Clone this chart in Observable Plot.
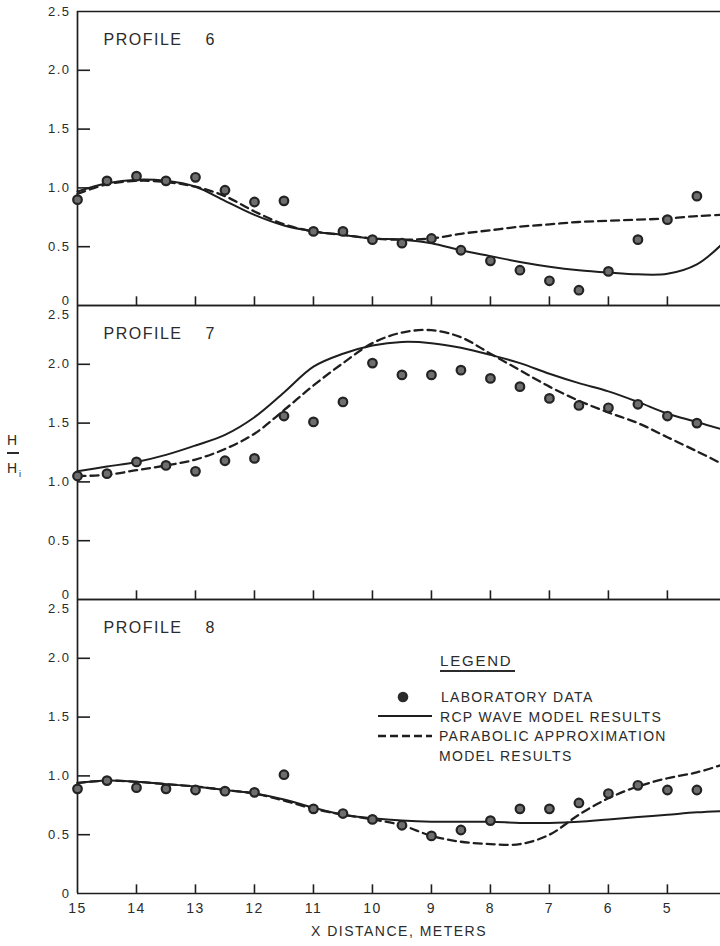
<!DOCTYPE html>
<html>
<head>
<meta charset="utf-8">
<script src="https://cdn.jsdelivr.net/npm/d3@7"></script>
<script src="https://cdn.jsdelivr.net/npm/@observablehq/plot@0.6"></script>
<style>
  body { margin: 0; background: #fff; }
  #wrap { position: relative; width: 720px; height: 946px; overflow: hidden; background: #fff;
          font-family: "Liberation Sans", Arial, sans-serif; color: #2b2b2b; }
  #wrap > svg { position: absolute; left: 0; top: 0; }
  .abs { position: absolute; white-space: nowrap; line-height: 1; }
</style>
</head>
<body>
<div id="wrap"></div>
<script>
// ---- data ----
const panels = ["6", "7", "8"];
const xPoints = [15, 14.5, 14, 13.5, 13, 12.5, 12, 11.5, 11, 10.5, 10, 9.5, 9, 8.5, 8, 7.5, 7, 6.5, 6, 5.5, 5, 4.5, 4];
const lab6 = [0.90, 1.06, 1.10, 1.06, 1.09, 0.98, 0.88, 0.89, 0.63, 0.63, 0.56, 0.53, 0.57, 0.47, 0.38, 0.30, 0.21, 0.13, 0.29, 0.56, 0.73, 0.93, 1.09];
const lab7 = [1.05, 1.07, 1.17, 1.14, 1.09, 1.18, 1.20, 1.56, 1.51, 1.68, 2.01, 1.91, 1.91, 1.95, 1.88, 1.81, 1.71, 1.65, 1.63, 1.66, 1.56, 1.50, 1.36];
const lab8 = [0.89, 0.96, 0.90, 0.89, 0.88, 0.87, 0.86, 1.01, 0.72, 0.68, 0.63, 0.58, 0.49, 0.54, 0.62, 0.72, 0.72, 0.77, 0.85, 0.92, 0.88, 0.88, 0.89];

const xCurve = [15, 14.5, 14, 13.5, 13, 12.5, 12, 11.5, 11, 10.5, 10, 9.5, 9, 8.5, 8, 7.5, 7, 6.5, 6, 5.5, 5, 4.5, 4.1];
const rcp6 = [0.97, 1.04, 1.07, 1.06, 1.01, 0.89, 0.77, 0.68, 0.63, 0.60, 0.57, 0.56, 0.53, 0.47, 0.42, 0.37, 0.33, 0.30, 0.28, 0.265, 0.27, 0.35, 0.51];
const para6 = [0.95, 1.03, 1.06, 1.05, 1.01, 0.93, 0.80, 0.69, 0.63, 0.60, 0.57, 0.56, 0.57, 0.61, 0.64, 0.67, 0.69, 0.71, 0.72, 0.73, 0.74, 0.76, 0.77];
const rcp7 = [1.09, 1.13, 1.17, 1.23, 1.31, 1.40, 1.55, 1.76, 1.98, 2.09, 2.16, 2.19, 2.18, 2.14, 2.08, 2.01, 1.92, 1.84, 1.77, 1.68, 1.58, 1.51, 1.45];
const para7 = [1.05, 1.06, 1.10, 1.14, 1.19, 1.28, 1.41, 1.61, 1.82, 2.01, 2.18, 2.27, 2.29, 2.23, 2.09, 1.95, 1.81, 1.69, 1.59, 1.50, 1.38, 1.26, 1.16];
const rcp8 = [0.94, 0.96, 0.95, 0.93, 0.91, 0.88, 0.85, 0.80, 0.73, 0.67, 0.64, 0.62, 0.61, 0.61, 0.61, 0.60, 0.60, 0.61, 0.63, 0.65, 0.67, 0.69, 0.70];
const para8 = [0.94, 0.96, 0.95, 0.93, 0.91, 0.88, 0.85, 0.79, 0.72, 0.67, 0.63, 0.58, 0.49, 0.44, 0.42, 0.42, 0.50, 0.67, 0.81, 0.91, 0.98, 1.03, 1.09];

const xTicks = [15, 14, 13, 12, 11, 10, 9, 8, 7, 6, 5];
const yTicks = [0.5, 1.0, 1.5, 2.0];
const yEnds = [0, 2.5];

// ---- tables ----
const labs = [lab6, lab7, lab8];
const rcps = [rcp6, rcp7, rcp8];
const paras = [para6, para7, para8];
const labData = panels.flatMap((p, i) => xPoints.map((x, j) => ({panel: p, x, h: labs[i][j]})));
const rcpData = panels.flatMap((p, i) => xCurve.map((x, j) => ({panel: p, x, h: rcps[i][j]})));
const paraData = panels.flatMap((p, i) => xCurve.map((x, j) => ({panel: p, x, h: paras[i][j]})));

const W = 720, H = 946, mT = 10, mB = 53, mL = 77, mR = 0;
const facetH = (H - mT - mB) / 3;
const frameW = W - mL - mR;
const ink = "#1e1e1e";

const chart = Plot.plot({
  width: W, height: H,
  marginTop: mT, marginBottom: mB, marginLeft: mL, marginRight: mR,
  x: {domain: [15, 4.1]},
  y: {domain: [0, 2.5]},
  fy: {domain: panels, padding: 0, axis: null},
  style: {fontFamily: "'Liberation Sans', Arial, sans-serif", fontSize: "13px", color: "#2b2b2b",
          background: "transparent", letterSpacing: "1.5px", overflow: "visible"},
  marks: [
    // frame lines
    Plot.ruleY(yEnds, {stroke: ink, strokeWidth: 1.7}),
    Plot.ruleX([15], {stroke: ink, strokeWidth: 1.7}),
    // inner tick marks
    Plot.ruleX(xTicks.slice(1), {stroke: ink, strokeWidth: 1.6, insetTop: facetH - 9}),
    Plot.ruleY(yTicks, {stroke: ink, strokeWidth: 1.6, insetRight: frameW - 13}),
    // axes labels
    Plot.axisY({ticks: yTicks, tickSize: 0, tickPadding: 7, tickFormat: d => d.toFixed(1), fontSize: 13, label: null}),
    Plot.axisX({ticks: xTicks, tickSize: 0, tickPadding: 10, tickFormat: d => String(d), fontSize: 14, label: null}),
    Plot.text(["6"], {fy: d => d, y: () => 2.5, text: () => "2.5", frameAnchor: "left", dx: -7, textAnchor: "end", fontSize: 13}),
    Plot.text(["7", "8"], {fy: d => d, y: () => 2.5, text: () => "2.5", frameAnchor: "left", dx: -7, dy: 9, textAnchor: "end", fontSize: 13}),
    Plot.text(["6", "7"], {fy: d => d, y: () => 0, text: () => "0", frameAnchor: "left", dx: -7, dy: -5, textAnchor: "end", fontSize: 13}),
    Plot.text(["8"], {fy: d => d, y: () => 0, text: () => "0", frameAnchor: "left", dx: -7, textAnchor: "end", fontSize: 13}),
    // model curves
    Plot.line(rcpData, {x: "x", y: "h", fy: "panel", z: "panel", curve: "catmull-rom", stroke: ink, strokeWidth: 2}),
    Plot.line(paraData, {x: "x", y: "h", fy: "panel", z: "panel", curve: "catmull-rom", stroke: ink, strokeWidth: 2.3, strokeDasharray: "8,5"}),
    // laboratory data
    Plot.dot(labData, {x: "x", y: "h", fy: "panel", r: 4.3, fill: "#6e6e6e", stroke: "#232323", strokeWidth: 2.2}),
    // panel titles
    Plot.text(panels, {fy: d => d, text: () => "PROFILE", frameAnchor: "top-left", dx: 26, dy: 22, textAnchor: "start", fontSize: 16}),
    Plot.text(panels, {fy: d => d, text: d => d, frameAnchor: "top-left", dx: 128, dy: 22, textAnchor: "start", fontSize: 16}),
    // x title
    Plot.text(["X DISTANCE, METERS"], {fy: () => "8", text: d => d, frameAnchor: "bottom", dy: 42, fontSize: 14})
  ]
});
const wrap = document.getElementById("wrap");
wrap.appendChild(chart);

// y-axis label H / H_i
function addText(txt, left, top, size, extra) {
  const d = document.createElement("div");
  d.className = "abs";
  d.textContent = txt;
  d.style.left = left + "px";
  d.style.top = top + "px";
  d.style.fontSize = size + "px";
  if (extra) Object.assign(d.style, extra);
  wrap.appendChild(d);
  return d;
}
addText("H", 7, 433, 14);
const bar = document.createElement("div");
Object.assign(bar.style, {position: "absolute", left: "7px", top: "452px", width: "12px", height: "1.6px", background: "#2b2b2b"});
wrap.appendChild(bar);
addText("H", 7, 461, 14);
addText("i", 19, 470, 9);

// legend
addText("LEGEND", 440, 653, 15, {letterSpacing: "1.8px"});
const ul = document.createElement("div");
Object.assign(ul.style, {position: "absolute", left: "440px", top: "670px", width: "75px", height: "1.5px", background: "#2b2b2b"});
wrap.appendChild(ul);
const ls = {letterSpacing: "1.3px"};
addText("LABORATORY DATA", 441, 690, 14, ls);
addText("RCP WAVE MODEL RESULTS", 440, 710, 14, ls);
addText("PARABOLIC APPROXIMATION", 439, 729, 14, ls);
addText("MODEL RESULTS", 439, 749, 14, ls);
const NS = "http://www.w3.org/2000/svg";
const lg = document.createElementNS(NS, "svg");
lg.setAttribute("width", W); lg.setAttribute("height", H);
lg.style.pointerEvents = "none";
lg.innerHTML = `
  <circle cx="403" cy="697" r="5.3" fill="#2a2a2a"/>
  <line x1="378" y1="716" x2="432" y2="716" stroke="${ink}" stroke-width="2"/>
  <line x1="378" y1="736" x2="432" y2="736" stroke="${ink}" stroke-width="2.3" stroke-dasharray="8,4"/>`;
wrap.appendChild(lg);
</script>
</body>
</html>
